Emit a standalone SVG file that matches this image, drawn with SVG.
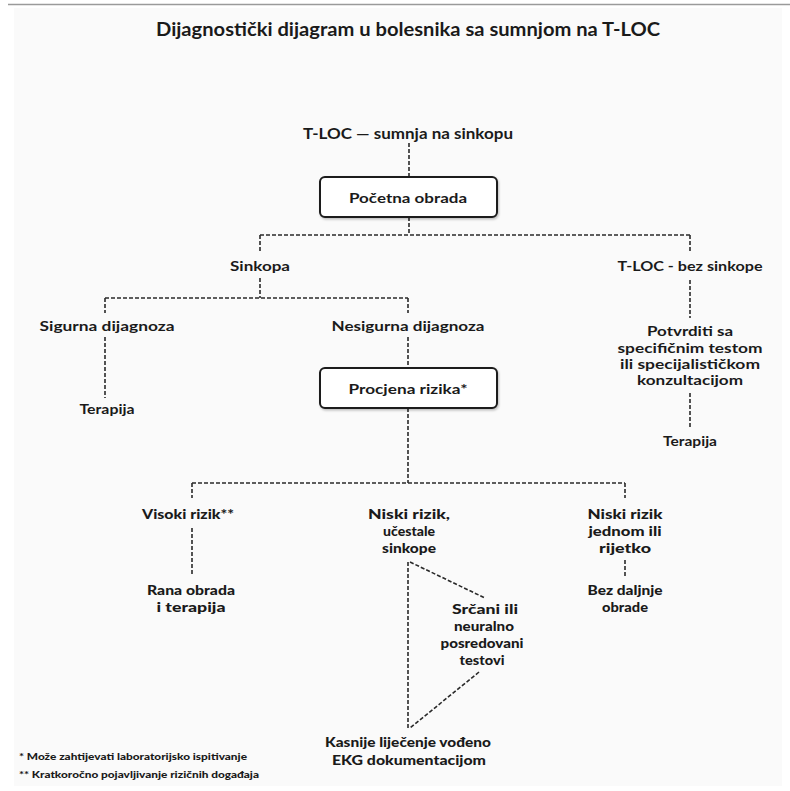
<svg xmlns="http://www.w3.org/2000/svg" width="790" height="791" viewBox="0 0 790 791">
<style>
.t{font-family:Lato,"Noto Sans","Liberation Sans",sans-serif;font-weight:700;fill:#1a1a1a;text-anchor:middle;dominant-baseline:central}
.c{font-family:Lato,"Noto Sans","Liberation Sans",sans-serif;font-weight:900;fill:#1a1a1a;text-anchor:middle;dominant-baseline:central;font-size:14px}
.f{font-family:Lato,"Noto Sans","Liberation Sans",sans-serif;font-weight:900;fill:#1a1a1a;font-size:9px;dominant-baseline:central}
.box{fill:#ffffff;stroke:#1a1a1a;stroke-width:2}
.ln{fill:none;stroke:#2a2a2a;stroke-width:1.6;stroke-dasharray:4 2}
</style>
<defs>
<filter id="sh" x="-10%" y="-20%" width="120%" height="150%"><feDropShadow dx="1" dy="1.5" stdDeviation="1" flood-color="#000" flood-opacity="0.25"/></filter>
</defs>
<rect x="0" y="0" width="790" height="791" fill="#ffffff"/>
<rect x="14" y="8" width="768" height="778" fill="#fafafa"/>
<line x1="8" y1="4.5" x2="790" y2="4.5" stroke="#9a9a9a" stroke-width="1.5"/>
<text class="t" x="408" y="28" font-size="19" font-weight="900" textLength="504" lengthAdjust="spacingAndGlyphs">Dijagnostički dijagram u bolesnika sa sumnjom na T-LOC</text>

<g id="connectors">
<path class="ln" d="M409 143 V177"/>
<path class="ln" d="M409 217 V235 M260 235 H690 M260 235 V252 M690 235 V252"/>
<path class="ln" d="M260 278 V298 M105 298 H408 M105 298 V313 M408 298 V313"/>
<path class="ln" d="M105 337 V398"/>
<path class="ln" d="M408 337 V368"/>
<path class="ln" d="M690 280 V318 M690 393 V427"/>
<path class="ln" d="M408 408 V483 M192 483 H625 M192 483 V498 M625 483 V498"/>
<path class="ln" d="M192 528 V575"/>
<path class="ln" d="M625 560 V578"/>
<path class="ln" d="M408 562 V728 M410 562 L485 598 M479 672 L410 728"/>
</g>

<g id="n-tloc"><text class="t" x="408" y="133" font-size="15" textLength="210" lengthAdjust="spacingAndGlyphs">T-LOC — sumnja na sinkopu</text></g>
<g id="n-pocetna"><rect class="box" x="320" y="177" width="177" height="40" rx="5" filter="url(#sh)"/><text class="t" x="408" y="197" font-size="14" textLength="118" lengthAdjust="spacingAndGlyphs">Početna obrada</text></g>
<g id="n-sinkopa"><text class="t" x="260" y="265" font-size="14" textLength="60" lengthAdjust="spacingAndGlyphs">Sinkopa</text></g>
<g id="n-bez"><text class="t" x="690" y="265" font-size="14" textLength="145" lengthAdjust="spacingAndGlyphs">T-LOC - bez sinkope</text></g>
<g id="n-sigurna"><text class="t" x="107" y="325" font-size="14" textLength="135" lengthAdjust="spacingAndGlyphs">Sigurna dijagnoza</text></g>
<g id="n-nesigurna"><text class="t" x="408" y="325" font-size="14" textLength="153" lengthAdjust="spacingAndGlyphs">Nesigurna dijagnoza</text></g>
<g id="n-terapija1"><text class="t" x="107" y="408" font-size="14" textLength="55" lengthAdjust="spacingAndGlyphs">Terapija</text></g>
<g id="n-procjena"><rect class="box" x="320" y="368" width="177" height="40" rx="5" filter="url(#sh)"/><text class="t" x="408" y="388" font-size="14" textLength="119" lengthAdjust="spacingAndGlyphs">Procjena rizika*</text></g>
<g id="n-potvrditi">
<text class="t" x="690" y="330" font-size="14" textLength="86" lengthAdjust="spacingAndGlyphs">Potvrditi sa</text>
<text class="t" x="690" y="347" font-size="14" textLength="145" lengthAdjust="spacingAndGlyphs">specifičnim testom</text>
<text class="t" x="690" y="363" font-size="14" textLength="140" lengthAdjust="spacingAndGlyphs">ili specijalističkom</text>
<text class="t" x="690" y="379" font-size="14" textLength="106" lengthAdjust="spacingAndGlyphs">konzultacijom</text>
</g>
<g id="n-terapija2"><text class="t" x="690" y="440" font-size="14" textLength="54" lengthAdjust="spacingAndGlyphs">Terapija</text></g>
<g id="n-visoki"><text class="c" x="188" y="513" textLength="92" lengthAdjust="spacingAndGlyphs">Visoki rizik**</text></g>
<g id="n-niski1">
<text class="c" x="409" y="513" textLength="82" lengthAdjust="spacingAndGlyphs">Niski rizik,</text>
<text class="c" x="409" y="530" textLength="52" lengthAdjust="spacingAndGlyphs">učestale</text>
<text class="c" x="409" y="547" textLength="54" lengthAdjust="spacingAndGlyphs">sinkope</text>
</g>
<g id="n-niski2">
<text class="c" x="625" y="513" textLength="75" lengthAdjust="spacingAndGlyphs">Niski rizik</text>
<text class="c" x="625" y="530" textLength="73" lengthAdjust="spacingAndGlyphs">jednom ili</text>
<text class="c" x="625" y="547" textLength="52" lengthAdjust="spacingAndGlyphs">rijetko</text>
</g>
<g id="n-rana">
<text class="c" x="191" y="589" textLength="88" lengthAdjust="spacingAndGlyphs">Rana obrada</text>
<text class="c" x="191" y="606" textLength="69" lengthAdjust="spacingAndGlyphs">i terapija</text>
</g>
<g id="n-bezdaljnje">
<text class="c" x="625" y="589" textLength="75" lengthAdjust="spacingAndGlyphs">Bez daljnje</text>
<text class="c" x="625" y="606" textLength="46" lengthAdjust="spacingAndGlyphs">obrade</text>
</g>
<g id="n-srcani">
<text class="c" x="485" y="608" textLength="66" lengthAdjust="spacingAndGlyphs">Srčani ili</text>
<text class="c" x="484" y="625" textLength="60" lengthAdjust="spacingAndGlyphs">neuralno</text>
<text class="c" x="482" y="642" textLength="83" lengthAdjust="spacingAndGlyphs">posredovani</text>
<text class="c" x="482" y="659" textLength="45" lengthAdjust="spacingAndGlyphs">testovi</text>
</g>
<g id="n-kasnije">
<text class="c" x="408" y="741" textLength="166" lengthAdjust="spacingAndGlyphs">Kasnije liječenje vođeno</text>
<text class="c" x="409" y="759" textLength="154" lengthAdjust="spacingAndGlyphs">EKG dokumentacijom</text>
</g>
<g id="footnotes">
<text class="f" x="19" y="756" textLength="228" lengthAdjust="spacingAndGlyphs">* Može zahtijevati laboratorijsko ispitivanje</text>
<text class="f" x="19" y="774" textLength="240" lengthAdjust="spacingAndGlyphs">** Kratkoročno pojavljivanje rizičnih događaja</text>
</g>
</svg>
